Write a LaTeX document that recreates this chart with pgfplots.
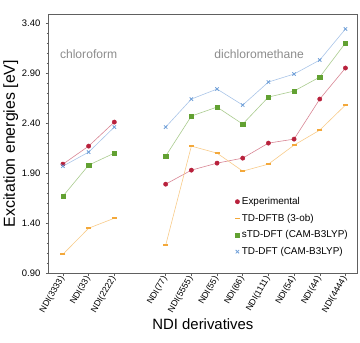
\documentclass[border=0pt]{standalone}
\usepackage{pgfplots}
\pgfplotsset{compat=1.18}
\usepackage{fontspec}
\setmainfont{Liberation Sans}
\usetikzlibrary{calc}
\definecolor{cexp}{HTML}{B8213C}
\definecolor{cdftb}{HTML}{F3A83A}
\definecolor{cstd}{HTML}{62A132}
\definecolor{ctd}{HTML}{6F9FD8}
\definecolor{frame}{HTML}{606060}
\begin{document}
\begin{tikzpicture}
\begin{axis}[
  scale only axis, width=309bp, height=260bp,
  xmin=-0.55, xmax=11.45, ymin=0.90, ymax=3.49,
  axis line style={frame, line width=0.8pt},
  xtick={0,1,2,4,5,6,7,8,9,10,11},
  xticklabels={NDI(3333),NDI(33),NDI(2222),NDI(77),NDI(5555),NDI(55),NDI(66),NDI(1111),NDI(54),NDI(44),NDI(4444)},
  xticklabel style={rotate=60, anchor=east, font=\fontsize{8.8}{10}\selectfont, inner sep=1pt},
  ytick={0.90,1.40,1.90,2.40,2.90,3.40},
  minor y tick num=4,
  yticklabel style={font=\fontsize{9.5}{11}\selectfont, xshift=-2bp, /pgf/number format/.cd, fixed, fixed zerofill, precision=2, assume math mode=true},
  tick style={frame, line width=0.5pt},
  tick align=outside, major tick length=3bp, minor tick length=2bp,
  xtick pos=bottom, ytick pos=left,
  xlabel={NDI derivatives}, ylabel={Excitation energies [eV]},
  xlabel style={font=\fontsize{15}{17}\selectfont, yshift=0bp},
  ylabel style={font=\fontsize{16}{19}\selectfont, yshift=-3bp},
  unbounded coords=jump,
  legend style={draw=none, fill=none, at={(0.60,0.305)}, anchor=north west, font=\fontsize{10}{12}\selectfont, row sep=4bp, inner sep=1pt},
  legend cell align=left,
  legend image code/.code={\draw[#1] plot coordinates {(0.08cm,0cm)};},
]
% Experimental
\addplot[cexp!55, line width=0.6pt, forget plot] table {
x y
0 1.99
1 2.17
2 2.41
3 nan
4 1.79
5 1.93
6 2.00
7 2.05
8 2.20
9 2.24
10 2.64
11 2.95
};
% TD-DFTB
\addplot[cdftb!60, line width=0.6pt, forget plot] table {
x y
0 1.09
1 1.35
2 1.45
3 nan
4 1.18
5 2.17
6 2.10
7 1.92
8 1.99
9 2.18
10 2.33
11 2.58
};
% sTD-DFT
\addplot[cstd!55, line width=0.6pt, forget plot] table {
x y
0 1.67
1 1.98
2 2.10
3 nan
4 2.07
5 2.47
6 2.56
7 2.39
8 2.66
9 2.72
10 2.86
11 3.20
};
% TD-DFT
\addplot[ctd!60, line width=0.6pt, forget plot] table {
x y
0 1.97
1 2.11
2 2.36
3 nan
4 2.36
5 2.64
6 2.74
7 2.58
8 2.81
9 2.89
10 3.03
11 3.34
};
% markers
\addplot[only marks, mark=*, mark size=2.2pt, color=cexp] table {
x y
0 1.99
1 2.17
2 2.41
4 1.79
5 1.93
6 2.00
7 2.05
8 2.20
9 2.24
10 2.64
11 2.95
};
\addlegendentry{Experimental}
\addplot[only marks, mark=-, mark size=2.5pt, color=cdftb, mark options={line width=1.6pt}] table {
x y
0 1.09
1 1.35
2 1.45
4 1.18
5 2.17
6 2.10
7 1.92
8 1.99
9 2.18
10 2.33
11 2.58
};
\addlegendentry{TD-DFTB (3-ob)}
\addplot[only marks, mark=square*, mark size=2.1pt, color=cstd] table {
x y
0 1.67
1 1.98
2 2.10
4 2.07
5 2.47
6 2.56
7 2.39
8 2.66
9 2.72
10 2.86
11 3.20
};
\addlegendentry{sTD-DFT (CAM-B3LYP)}
\addplot[only marks, mark=x, mark size=2.4pt, color=ctd, mark options={line width=0.8pt}] table {
x y
0 1.97
1 2.11
2 2.36
4 2.36
5 2.64
6 2.74
7 2.58
8 2.81
9 2.89
10 3.03
11 3.34
};
\addlegendentry{TD-DFT (CAM-B3LYP)}
\node[text=gray!90, font=\fontsize{12.2}{14}\selectfont] at (axis cs:1.0,3.09) {chloroform};
\node[text=gray!90, font=\fontsize{12.2}{14}\selectfont] at (axis cs:7.64,3.09) {dichloromethane};
\end{axis}
\useasboundingbox ($(current axis.south west)+(-48bp,-69bp)$) rectangle ($(current axis.north east)+(3bp,14bp)$);
\end{tikzpicture}
\end{document}
